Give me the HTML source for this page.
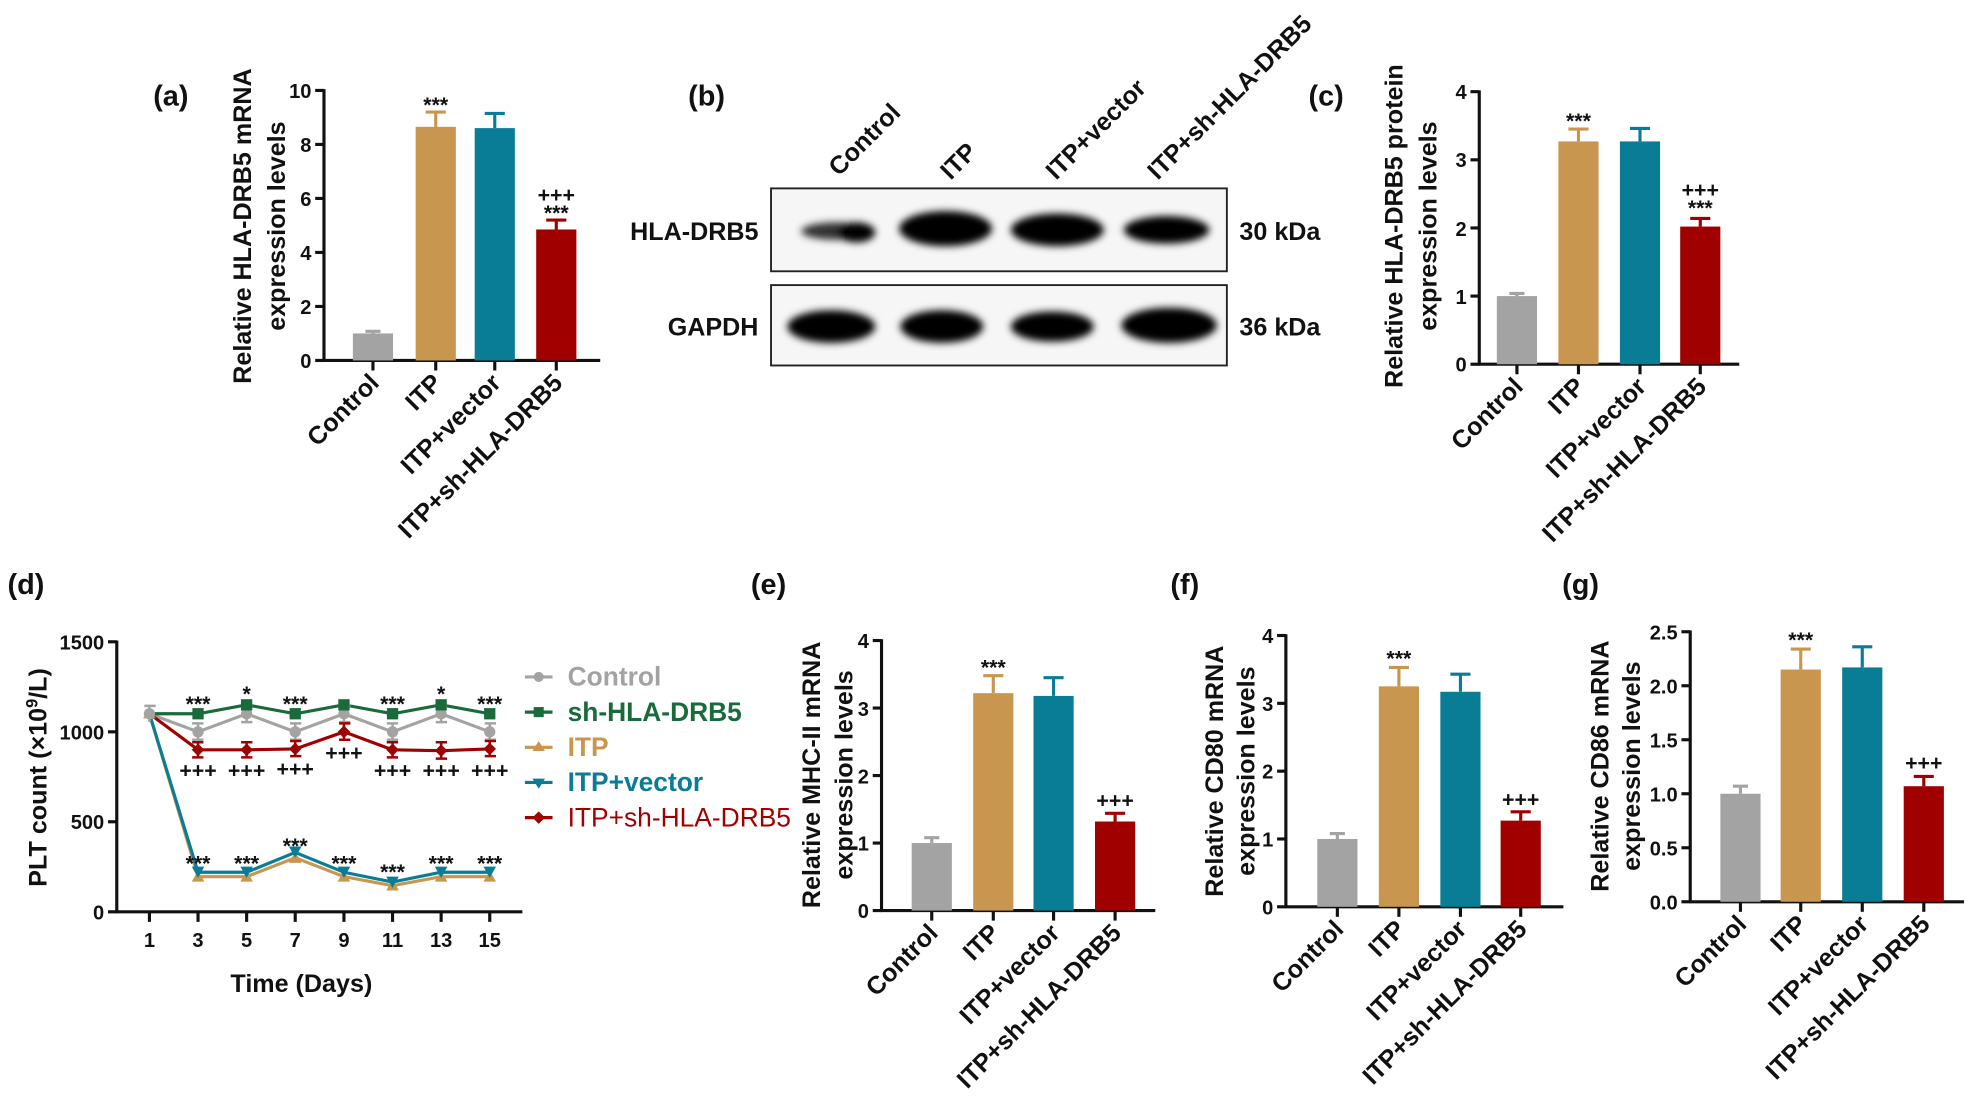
<!DOCTYPE html>
<html><head><meta charset="utf-8"><style>
html,body{margin:0;padding:0;background:#fff;}
svg{display:block;}
text{font-family:"Liberation Sans",Arial,sans-serif;font-weight:bold;fill:#111;}
.t{font-size:16px;}
.xl{font-size:20px;}
.yl{font-size:20px;}
.pl{font-size:23px;}
.an{font-size:17px;}
</style></head><body>
<svg width="1969" height="1109" viewBox="0 0 1568 883" preserveAspectRatio="none" xmlns="http://www.w3.org/2000/svg">
<defs>
<filter id="bl" x="-30%" y="-60%" width="160%" height="220%"><feGaussianBlur stdDeviation="3"/></filter>
</defs>
<rect width="1568" height="883" fill="#fff"/>

<text class="pl" x="122" y="84">(a)</text>
<text class="pl" x="548" y="84">(b)</text>
<text class="pl" x="1042" y="84">(c)</text>
<text class="pl" x="6" y="473">(d)</text>
<text class="pl" x="598" y="473">(e)</text>
<text class="pl" x="932" y="473">(f)</text>
<text class="pl" x="1244" y="473">(g)</text>

<!-- ===== Panel A ===== -->
<g stroke="#111" stroke-width="2.5" fill="none">
<line x1="258" y1="71" x2="258" y2="288"/>
<line x1="257" y1="287" x2="478" y2="287"/>
<line x1="251" y1="287" x2="258" y2="287"/><line x1="251" y1="244" x2="258" y2="244"/><line x1="251" y1="201" x2="258" y2="201"/><line x1="251" y1="158" x2="258" y2="158"/><line x1="251" y1="115" x2="258" y2="115"/><line x1="251" y1="72" x2="258" y2="72"/>
<line x1="297" y1="287" x2="297" y2="295"/><line x1="347" y1="287" x2="347" y2="295"/><line x1="394" y1="287" x2="394" y2="295"/><line x1="443" y1="287" x2="443" y2="295"/>
</g>
<g class="t" text-anchor="end">
<text x="248" y="293">0</text><text x="248" y="250">2</text><text x="248" y="207">4</text><text x="248" y="164">6</text><text x="248" y="121">8</text><text x="248" y="78">10</text>
</g>
<rect x="281" y="265.5" width="32" height="21.5" fill="#a3a3a3"/>
<rect x="331" y="101" width="32" height="186" fill="#c8964f"/>
<rect x="378" y="102" width="32" height="185" fill="#0a7d96"/>
<rect x="427" y="182.7" width="32" height="104.3" fill="#a00000"/>
<g stroke-width="2.5" fill="none">
<path d="M297 265.5V263.8M291 263.8H303" stroke="#a3a3a3"/>
<path d="M347 101V89.2M339 89.2H355" stroke="#c8964f"/>
<path d="M394 102V90.3M386 90.3H402" stroke="#0a7d96"/>
<path d="M443 182.7V175.2M435 175.2H451" stroke="#a00000"/>
</g>
<text class="an" x="347" y="89" text-anchor="middle">***</text>
<text class="an" x="443" y="161" text-anchor="middle">+++</text>
<text class="an" x="443" y="175" text-anchor="middle">***</text>
<g class="xl" text-anchor="end">
<text transform="translate(303,306) rotate(-45)">Control</text>
<text transform="translate(353,306) rotate(-45)">ITP</text>
<text transform="translate(400,306) rotate(-45)">ITP+vector</text>
<text transform="translate(449,306) rotate(-45)">ITP+sh-HLA-DRB5</text>
</g>
<g class="yl" text-anchor="middle">
<text transform="translate(200,180) rotate(-90)">Relative HLA-DRB5 mRNA</text>
<text transform="translate(227,180) rotate(-90)">expression levels</text>
</g>

<!-- ===== Panel B ===== -->
<g class="xl">
<text transform="translate(668,141) rotate(-45)">Control</text>
<text transform="translate(757,144) rotate(-45)">ITP</text>
<text transform="translate(841,144) rotate(-45)">ITP+vector</text>
<text transform="translate(922,144) rotate(-45)">ITP+sh-HLA-DRB5</text>
</g>
<rect x="614" y="150" width="363" height="66" fill="#f6f6f6" stroke="#222" stroke-width="1.5"/>
<rect x="614" y="227" width="363" height="64" fill="#f6f6f6" stroke="#222" stroke-width="1.5"/>
<g filter="url(#bl)" fill="#000">
<ellipse cx="666" cy="184" rx="28" ry="7" fill="#333"/>
<ellipse cx="682" cy="185" rx="15" ry="8"/>
<ellipse cx="753" cy="182" rx="37" ry="14"/>
<ellipse cx="842" cy="183" rx="37" ry="13"/>
<ellipse cx="929" cy="183" rx="34" ry="11"/>
<ellipse cx="662" cy="260" rx="35" ry="13"/>
<ellipse cx="750" cy="260" rx="33" ry="13"/>
<ellipse cx="838" cy="260" rx="33" ry="12"/>
<ellipse cx="931" cy="259" rx="38" ry="14"/>
</g>
<g class="xl">
<text x="604" y="191" text-anchor="end">HLA-DRB5</text>
<text x="604" y="267" text-anchor="end">GAPDH</text>
<text x="987" y="191">30 kDa</text>
<text x="987" y="267">36 kDa</text>
</g>

<!-- ===== Panel C ===== -->
<g stroke="#111" stroke-width="2.5" fill="none">
<line x1="1178" y1="72" x2="1178" y2="291"/>
<line x1="1177" y1="290" x2="1385" y2="290"/>
<line x1="1171" y1="290" x2="1178" y2="290"/><line x1="1171" y1="235.75" x2="1178" y2="235.75"/><line x1="1171" y1="181.5" x2="1178" y2="181.5"/><line x1="1171" y1="127.25" x2="1178" y2="127.25"/><line x1="1171" y1="73" x2="1178" y2="73"/>
<line x1="1208" y1="290" x2="1208" y2="298"/><line x1="1257" y1="290" x2="1257" y2="298"/><line x1="1306" y1="290" x2="1306" y2="298"/><line x1="1354" y1="290" x2="1354" y2="298"/>
</g>
<g class="t" text-anchor="end">
<text x="1168" y="296">0</text><text x="1168" y="242">1</text><text x="1168" y="188">2</text><text x="1168" y="133">3</text><text x="1168" y="79">4</text>
</g>
<rect x="1192" y="235.75" width="32" height="54.25" fill="#a3a3a3"/>
<rect x="1241" y="112.6" width="32" height="177.4" fill="#c8964f"/>
<rect x="1290" y="112.6" width="32" height="177.4" fill="#0a7d96"/>
<rect x="1338" y="180.4" width="32" height="109.6" fill="#a00000"/>
<g stroke-width="2.5" fill="none">
<path d="M1208 235.75V233.6M1202 233.6H1214" stroke="#a3a3a3"/>
<path d="M1257 112.6V102.8M1249 102.8H1265" stroke="#c8964f"/>
<path d="M1306 112.6V102.3M1298 102.3H1314" stroke="#0a7d96"/>
<path d="M1354 180.4V173.9M1346 173.9H1362" stroke="#a00000"/>
</g>
<text class="an" x="1257" y="102" text-anchor="middle">***</text>
<text class="an" x="1354" y="157" text-anchor="middle">+++</text>
<text class="an" x="1354" y="171" text-anchor="middle">***</text>
<g class="xl" text-anchor="end">
<text transform="translate(1214,309) rotate(-45)">Control</text>
<text transform="translate(1263,309) rotate(-45)">ITP</text>
<text transform="translate(1312,309) rotate(-45)">ITP+vector</text>
<text transform="translate(1360,309) rotate(-45)">ITP+sh-HLA-DRB5</text>
</g>
<g class="yl" text-anchor="middle">
<text transform="translate(1117,180) rotate(-90)">Relative HLA-DRB5 protein</text>
<text transform="translate(1144,180) rotate(-90)">expression levels</text>
</g>

<!-- ===== Panel D ===== -->
<g stroke="#111" stroke-width="2.5" fill="none">
<line x1="93" y1="510" x2="93" y2="727"/>
<line x1="92" y1="726" x2="416" y2="726"/>
<line x1="86" y1="726" x2="93" y2="726"/><line x1="86" y1="654.3" x2="93" y2="654.3"/><line x1="86" y1="582.7" x2="93" y2="582.7"/><line x1="86" y1="511" x2="93" y2="511"/>
<line x1="119" y1="726" x2="119" y2="734"/><line x1="157.7" y1="726" x2="157.7" y2="734"/><line x1="196.4" y1="726" x2="196.4" y2="734"/><line x1="235.1" y1="726" x2="235.1" y2="734"/><line x1="273.9" y1="726" x2="273.9" y2="734"/><line x1="312.6" y1="726" x2="312.6" y2="734"/><line x1="351.3" y1="726" x2="351.3" y2="734"/><line x1="390" y1="726" x2="390" y2="734"/>
</g>
<g class="t" text-anchor="end">
<text x="83" y="732">0</text><text x="83" y="660">500</text><text x="83" y="589">1000</text><text x="83" y="517">1500</text>
</g>
<g class="t" text-anchor="middle">
<text x="119" y="754">1</text><text x="157.7" y="754">3</text><text x="196.4" y="754">5</text><text x="235.1" y="754">7</text><text x="273.9" y="754">9</text><text x="312.6" y="754">11</text><text x="351.3" y="754">13</text><text x="390" y="754">15</text>
</g>
<text class="yl" x="240" y="790" text-anchor="middle">Time (Days)</text>
<text class="yl" transform="translate(37,619) rotate(-90)" text-anchor="middle">PLT count (×10<tspan dy="-7" font-size="13">9</tspan><tspan dy="7">/L)</tspan></text>
<g fill="none" stroke-width="2.5">
<polyline stroke="#c8964f" points="119,568.3 157.7,698 196.4,698 235.1,683 273.9,698 312.6,705.2 351.3,698 390,698"/>
<polyline stroke="#0a7d96" points="119,568.3 157.7,694.5 196.4,694.5 235.1,678.7 273.9,694.5 312.6,702.3 351.3,694.5 390,694.5"/>
<polyline stroke="#a3a3a3" points="119,568.3 157.7,582.7 196.4,568.3 235.1,582.7 273.9,568.3 312.6,582.7 351.3,568.3 390,582.7"/>
<polyline stroke="#a00000" points="119,568.3 157.7,597 196.4,597 235.1,596.3 273.9,582.7 312.6,597 351.3,597.7 390,596.3"/>
<polyline stroke="#1a6b3c" points="119,568.3 157.7,568.3 196.4,561.2 235.1,568.3 273.9,561.2 312.6,568.3 351.3,561.2 390,568.3"/>
</g>
<g stroke-width="2" fill="none">
<path stroke="#a3a3a3" d="M157.7 576V589M153 576h9M153 589h9M196.4 562V575M192 562h9M192 575h9M235.1 576V589M231 576h9M231 589h9M273.9 562V575M270 562h9M270 575h9M312.6 576V589M308 576h9M308 589h9M351.3 562V575M347 562h9M347 575h9M390 576V589M386 576h9M386 589h9M119 562V575M115 562h9"/>
<path stroke="#a00000" d="M157.7 591V603M153 591h9M153 603h9M196.4 591V603M192 591h9M192 603h9M235.1 590V602M231 590h9M231 602h9M273.9 576V589M270 576h9M270 589h9M312.6 591V603M308 591h9M308 603h9M351.3 591V604M347 591h9M347 604h9M390 590V602M386 590h9M386 602h9"/>
</g>
<g fill="#c8964f">
<polygon points="119,563 124,572 114,572"/><polygon points="157.7,693 162.7,702 152.7,702"/><polygon points="196.4,693 201.4,702 191.4,702"/><polygon points="235.1,678 240.1,687 230.1,687"/><polygon points="273.9,693 278.9,702 268.9,702"/><polygon points="312.6,700 317.6,709 307.6,709"/><polygon points="351.3,693 356.3,702 346.3,702"/><polygon points="390,693 395,702 385,702"/>
</g>
<g fill="#0a7d96">
<polygon points="152.7,690 162.7,690 157.7,699"/><polygon points="191.4,690 201.4,690 196.4,699"/><polygon points="230.1,674 240.1,674 235.1,683"/><polygon points="268.9,690 278.9,690 273.9,699"/><polygon points="307.6,698 317.6,698 312.6,707"/><polygon points="346.3,690 356.3,690 351.3,699"/><polygon points="385,690 395,690 390,699"/>
</g>
<g fill="#a3a3a3">
<circle cx="119" cy="568.3" r="4.5"/><circle cx="157.7" cy="582.7" r="4.5"/><circle cx="196.4" cy="568.3" r="4.5"/><circle cx="235.1" cy="582.7" r="4.5"/><circle cx="273.9" cy="568.3" r="4.5"/><circle cx="312.6" cy="582.7" r="4.5"/><circle cx="351.3" cy="568.3" r="4.5"/><circle cx="390" cy="582.7" r="4.5"/>
</g>
<g fill="#a00000">
<polygon points="157.7,592 162.7,597 157.7,602 152.7,597"/><polygon points="196.4,592 201.4,597 196.4,602 191.4,597"/><polygon points="235.1,591.3 240.1,596.3 235.1,601.3 230.1,596.3"/><polygon points="273.9,577.7 278.9,582.7 273.9,587.7 268.9,582.7"/><polygon points="312.6,592 317.6,597 312.6,602 307.6,597"/><polygon points="351.3,592.7 356.3,597.7 351.3,602.7 346.3,597.7"/><polygon points="390,591.3 395,596.3 390,601.3 385,596.3"/>
</g>
<g fill="#1a6b3c">
<rect x="153.2" y="563.8" width="9" height="9"/><rect x="191.9" y="556.7" width="9" height="9"/><rect x="230.6" y="563.8" width="9" height="9"/><rect x="269.4" y="556.7" width="9" height="9"/><rect x="308.1" y="563.8" width="9" height="9"/><rect x="346.8" y="556.7" width="9" height="9"/><rect x="385.5" y="563.8" width="9" height="9"/>
</g>
<g class="an" text-anchor="middle">
<text x="157.7" y="566">***</text><text x="196.4" y="558">*</text><text x="235.1" y="566">***</text><text x="312.6" y="566">***</text><text x="351.3" y="558">*</text><text x="390" y="566">***</text>
<text x="157.7" y="619">+++</text><text x="196.4" y="619">+++</text><text x="235.1" y="618">+++</text><text x="273.9" y="605">+++</text><text x="312.6" y="619">+++</text><text x="351.3" y="619">+++</text><text x="390" y="619">+++</text>
<text x="157.7" y="693">***</text><text x="196.4" y="693">***</text><text x="235.1" y="679">***</text><text x="273.9" y="693">***</text><text x="312.6" y="700">***</text><text x="351.3" y="693">***</text><text x="390" y="693">***</text>
</g>
<g stroke-width="2.5">
<line x1="418" y1="539" x2="440" y2="539" stroke="#a3a3a3"/><circle cx="429" cy="539" r="4" fill="#a3a3a3"/>
<line x1="418" y1="567" x2="440" y2="567" stroke="#1a6b3c"/><rect x="425" y="563" width="8" height="8" fill="#1a6b3c"/>
<line x1="418" y1="595" x2="440" y2="595" stroke="#c8964f"/><polygon points="429,590 434,598 424,598" fill="#c8964f"/>
<line x1="418" y1="623" x2="440" y2="623" stroke="#0a7d96"/><polygon points="424,620 434,620 429,628" fill="#0a7d96"/>
<line x1="418" y1="651" x2="440" y2="651" stroke="#a00000"/><polygon points="429,646 434,651 429,656 424,651" fill="#a00000"/>
</g>
<g style="font-size:21px">
<text x="452" y="546" style="fill:#a3a3a3">Control</text>
<text x="452" y="574" style="fill:#1a6b3c">sh-HLA-DRB5</text>
<text x="452" y="602" style="fill:#c8964f">ITP</text>
<text x="452" y="630" style="fill:#0a7d96">ITP+vector</text>
<text x="452" y="658" style="fill:#a00000;font-weight:normal">ITP+sh-HLA-DRB5</text>
</g>

<!-- ===== Panel E ===== -->
<g stroke="#111" stroke-width="2.5" fill="none">
<line x1="702" y1="509" x2="702" y2="726"/>
<line x1="701" y1="725" x2="920" y2="725"/>
<line x1="695" y1="725" x2="702" y2="725"/><line x1="695" y1="671.25" x2="702" y2="671.25"/><line x1="695" y1="617.5" x2="702" y2="617.5"/><line x1="695" y1="563.75" x2="702" y2="563.75"/><line x1="695" y1="510" x2="702" y2="510"/>
<line x1="742" y1="725" x2="742" y2="733"/><line x1="791" y1="725" x2="791" y2="733"/><line x1="839" y1="725" x2="839" y2="733"/><line x1="888" y1="725" x2="888" y2="733"/>
</g>
<g class="t" text-anchor="end">
<text x="692" y="731">0</text><text x="692" y="677">1</text><text x="692" y="624">2</text><text x="692" y="570">3</text><text x="692" y="516">4</text>
</g>
<rect x="726" y="671.25" width="32" height="53.75" fill="#a3a3a3"/>
<rect x="775" y="551.9" width="32" height="173.1" fill="#c8964f"/>
<rect x="823" y="554.1" width="32" height="170.9" fill="#0a7d96"/>
<rect x="872" y="654.1" width="32" height="70.9" fill="#a00000"/>
<g stroke-width="2.5" fill="none">
<path d="M742 671.25V667M736 667H748" stroke="#a3a3a3"/>
<path d="M791 551.9V538M783 538H799" stroke="#c8964f"/>
<path d="M839 554.1V539.6M831 539.6H847" stroke="#0a7d96"/>
<path d="M888 654.1V647.6M880 647.6H896" stroke="#a00000"/>
</g>
<text class="an" x="791" y="537" text-anchor="middle">***</text>
<text class="an" x="888" y="643" text-anchor="middle">+++</text>
<g class="xl" text-anchor="end">
<text transform="translate(748,744) rotate(-45)">Control</text>
<text transform="translate(797,744) rotate(-45)">ITP</text>
<text transform="translate(845,744) rotate(-45)">ITP+vector</text>
<text transform="translate(894,744) rotate(-45)">ITP+sh-HLA-DRB5</text>
</g>
<g class="yl" text-anchor="middle">
<text transform="translate(653,617) rotate(-90)">Relative MHC-II mRNA</text>
<text transform="translate(679,617) rotate(-90)">expression levels</text>
</g>

<!-- ===== Panel F ===== -->
<g stroke="#111" stroke-width="2.5" fill="none">
<line x1="1024" y1="505" x2="1024" y2="723"/>
<line x1="1023" y1="722" x2="1245" y2="722"/>
<line x1="1017" y1="722" x2="1024" y2="722"/><line x1="1017" y1="668" x2="1024" y2="668"/><line x1="1017" y1="614" x2="1024" y2="614"/><line x1="1017" y1="560" x2="1024" y2="560"/><line x1="1017" y1="506" x2="1024" y2="506"/>
<line x1="1065" y1="722" x2="1065" y2="730"/><line x1="1114" y1="722" x2="1114" y2="730"/><line x1="1163" y1="722" x2="1163" y2="730"/><line x1="1211" y1="722" x2="1211" y2="730"/>
</g>
<g class="t" text-anchor="end">
<text x="1014" y="728">0</text><text x="1014" y="674">1</text><text x="1014" y="620">2</text><text x="1014" y="566">3</text><text x="1014" y="512">4</text>
</g>
<rect x="1049" y="668" width="32" height="54" fill="#a3a3a3"/>
<rect x="1098" y="546.5" width="32" height="175.5" fill="#c8964f"/>
<rect x="1147" y="550.8" width="32" height="171.2" fill="#0a7d96"/>
<rect x="1195" y="653.4" width="32" height="68.6" fill="#a00000"/>
<g stroke-width="2.5" fill="none">
<path d="M1065 668V663.7M1059 663.7H1071" stroke="#a3a3a3"/>
<path d="M1114 546.5V531.4M1106 531.4H1122" stroke="#c8964f"/>
<path d="M1163 550.8V536.8M1155 536.8H1171" stroke="#0a7d96"/>
<path d="M1211 653.4V646.4M1203 646.4H1219" stroke="#a00000"/>
</g>
<text class="an" x="1114" y="530" text-anchor="middle">***</text>
<text class="an" x="1211" y="642" text-anchor="middle">+++</text>
<g class="xl" text-anchor="end">
<text transform="translate(1071,741) rotate(-45)">Control</text>
<text transform="translate(1120,741) rotate(-45)">ITP</text>
<text transform="translate(1169,741) rotate(-45)">ITP+vector</text>
<text transform="translate(1217,741) rotate(-45)">ITP+sh-HLA-DRB5</text>
</g>
<g class="yl" text-anchor="middle">
<text transform="translate(974,614) rotate(-90)">Relative CD80 mRNA</text>
<text transform="translate(999,614) rotate(-90)">expression levels</text>
</g>

<!-- ===== Panel G ===== -->
<g stroke="#111" stroke-width="2.5" fill="none">
<line x1="1346" y1="502" x2="1346" y2="719"/>
<line x1="1345" y1="718" x2="1564" y2="718"/>
<line x1="1339" y1="718" x2="1346" y2="718"/><line x1="1339" y1="675" x2="1346" y2="675"/><line x1="1339" y1="632" x2="1346" y2="632"/><line x1="1339" y1="589" x2="1346" y2="589"/><line x1="1339" y1="546" x2="1346" y2="546"/><line x1="1339" y1="503" x2="1346" y2="503"/>
<line x1="1386" y1="718" x2="1386" y2="726"/><line x1="1434" y1="718" x2="1434" y2="726"/><line x1="1483" y1="718" x2="1483" y2="726"/><line x1="1532" y1="718" x2="1532" y2="726"/>
</g>
<g class="t" text-anchor="end">
<text x="1336" y="724">0.0</text><text x="1336" y="681">0.5</text><text x="1336" y="638">1.0</text><text x="1336" y="595">1.5</text><text x="1336" y="552">2.0</text><text x="1336" y="509">2.5</text>
</g>
<rect x="1370" y="632" width="32" height="86" fill="#a3a3a3"/>
<rect x="1418" y="533.1" width="32" height="184.9" fill="#c8964f"/>
<rect x="1467" y="531.4" width="32" height="186.6" fill="#0a7d96"/>
<rect x="1516" y="626" width="32" height="92" fill="#a00000"/>
<g stroke-width="2.5" fill="none">
<path d="M1386 632V626M1380 626H1392" stroke="#a3a3a3"/>
<path d="M1434 533.1V516.8M1426 516.8H1442" stroke="#c8964f"/>
<path d="M1483 531.4V515M1475 515H1491" stroke="#0a7d96"/>
<path d="M1532 626V618.2M1524 618.2H1540" stroke="#a00000"/>
</g>
<text class="an" x="1434" y="515" text-anchor="middle">***</text>
<text class="an" x="1532" y="613" text-anchor="middle">+++</text>
<g class="xl" text-anchor="end">
<text transform="translate(1392,737) rotate(-45)">Control</text>
<text transform="translate(1440,737) rotate(-45)">ITP</text>
<text transform="translate(1489,737) rotate(-45)">ITP+vector</text>
<text transform="translate(1538,737) rotate(-45)">ITP+sh-HLA-DRB5</text>
</g>
<g class="yl" text-anchor="middle">
<text transform="translate(1281,610) rotate(-90)">Relative CD86 mRNA</text>
<text transform="translate(1306,610) rotate(-90)">expression levels</text>
</g>
</svg>
</body></html>
